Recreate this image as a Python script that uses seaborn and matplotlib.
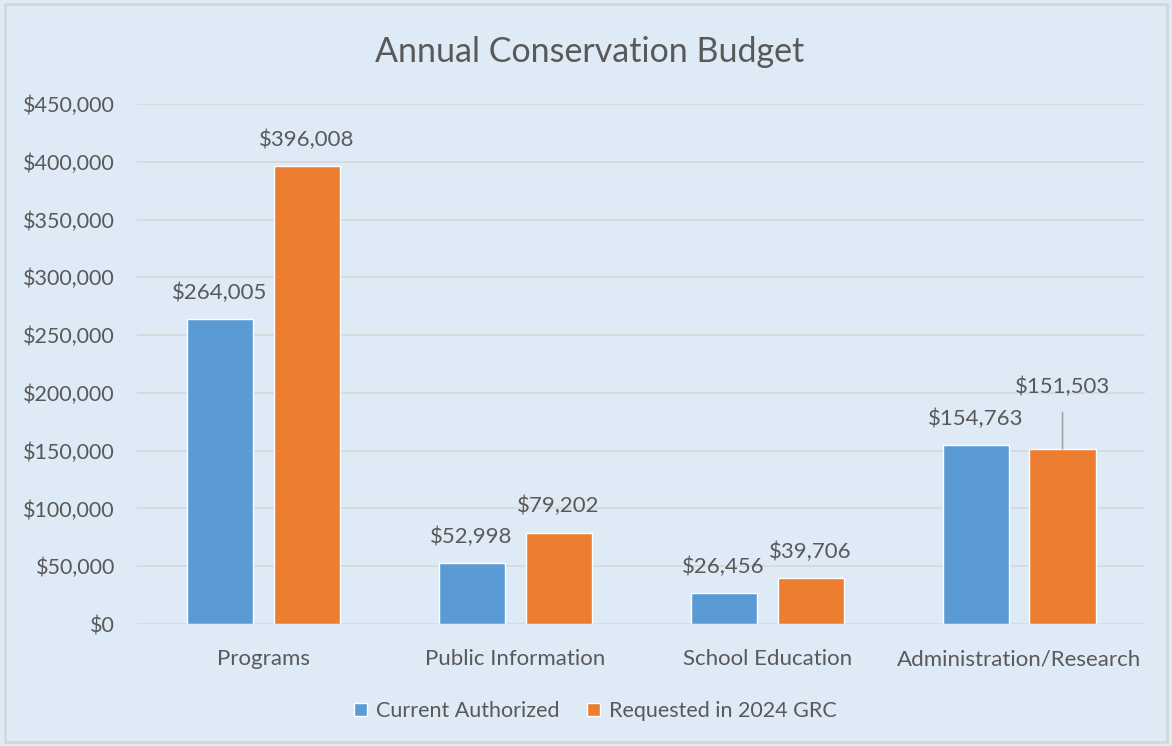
import pandas as pd
import seaborn as sns
import matplotlib.pyplot as plt
from matplotlib.patches import Rectangle
from matplotlib.ticker import FuncFormatter

# values
categories = ["Programs", "Public Information", "School Education", "Administration/Research"]
current_authorized = [264005, 52998, 26456, 154763]
requested_2024 = [396008, 79202, 39706, 151503]
series_names = ["Current Authorized", "Requested in 2024 GRC"]

df = pd.DataFrame({
    "category": categories * 2,
    "value": current_authorized + requested_2024,
    "series": [series_names[0]] * 4 + [series_names[1]] * 4,
})

sns.set_theme(style="white")
plt.rcParams['font.family'] = ['Lato', 'DejaVu Sans']
text_col = "#595959"
bg = "#DEEAF6"

fig = plt.figure(figsize=(11.72, 7.46), dpi=100, facecolor=bg)
ax = fig.add_axes([0.117, 0.1635, 0.860, 0.697])
ax.set_facecolor(bg)

sns.barplot(data=df, x="category", y="value", hue="series",
            palette=["#5B9BD5", "#ED7D31"], width=0.69, gap=0.24,
            ax=ax, legend=True, saturation=1, errorbar=None)

ax.set_ylim(0, 450000)
ax.set_xlim(-0.5, 3.5)
ax.set_yticks(range(0, 450001, 50000))
ax.yaxis.set_major_formatter(FuncFormatter(lambda v, p: f"${v:,.0f}"))
ax.grid(axis="y", color="#D9D9D9", linewidth=1.3)
ax.set_axisbelow(True)
for s in ax.spines.values():
    s.set_visible(False)
ax.tick_params(axis="x", length=0, labelsize=16, colors=text_col, pad=18)
ax.tick_params(axis="y", length=0, labelsize=15.5, colors=text_col, pad=16)
ax.set_xlabel("")
ax.set_ylabel("")

# data labels; the last orange one sits higher with a leader line
for ci, cont in enumerate(ax.containers):
    for bi, bar in enumerate(cont):
        x = bar.get_x() + bar.get_width() / 2
        h = bar.get_height()
        label = f"${h:,.0f}"
        if ci == 1 and bi == 3:
            ax.annotate(label, xy=(x, h), xytext=(0, 45), textcoords="offset points",
                        ha="center", va="center", fontsize=16, color=text_col,
                        arrowprops=dict(arrowstyle="-", color="#A6A6A6", lw=1.2,
                                        shrinkA=9, shrinkB=0))
        else:
            ax.annotate(label, xy=(x, h), xytext=(0, 19), textcoords="offset points",
                        ha="center", va="center", fontsize=16, color=text_col)

handles, labels = ax.get_legend_handles_labels()
ax.get_legend().remove()
fig.legend(handles, labels, loc="center", bbox_to_anchor=(0.508, 0.047), ncol=2,
           frameon=False, fontsize=15.5, labelcolor=text_col, handlelength=0.6,
           handleheight=0.6, handletextpad=0.4, columnspacing=1.3)

fig.text(0.503, 0.93, "Annual Conservation Budget", ha="center", va="center",
         fontsize=24.5, color=text_col)

# outer chart border
fig.patches.append(Rectangle((0.004, 0.005), 0.992, 0.99, transform=fig.transFigure,
                             fill=False, edgecolor="#D5D5D5", linewidth=1.8))

fig.savefig("out.png", dpi=100, facecolor=bg)
